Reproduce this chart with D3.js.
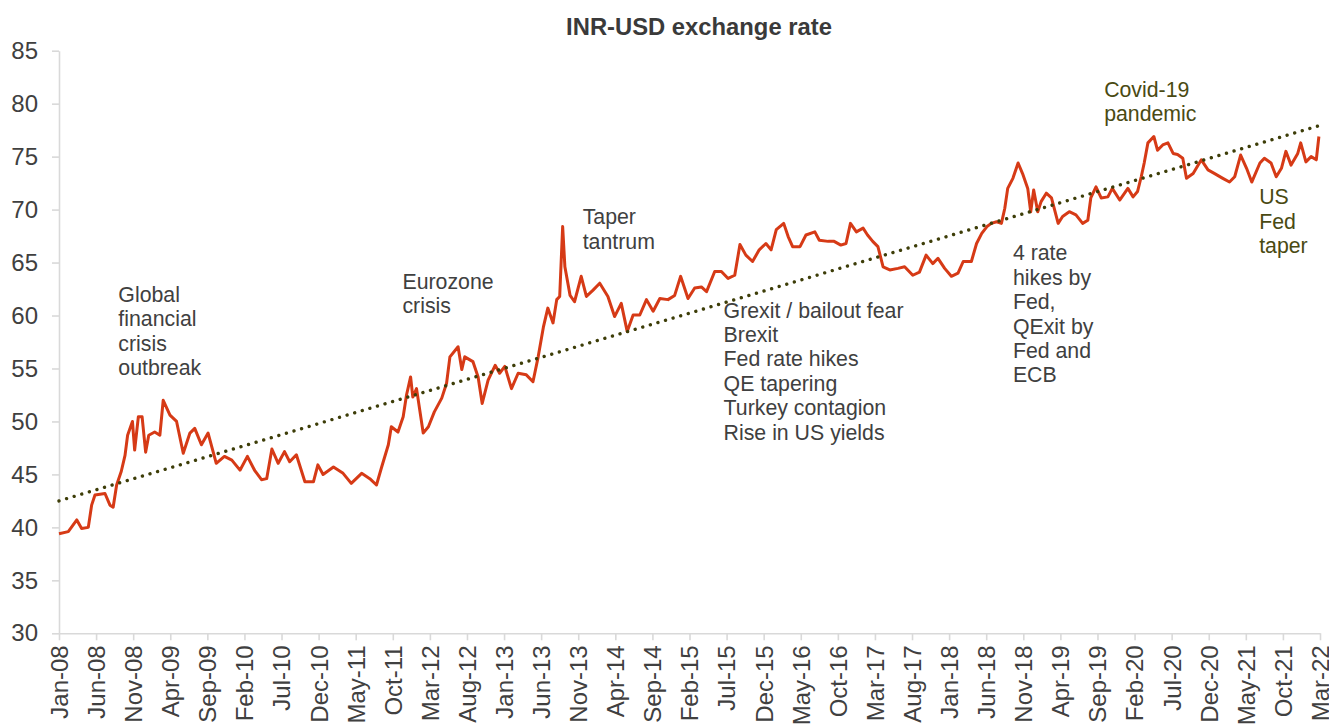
<!DOCTYPE html>
<html>
<head>
<meta charset="utf-8">
<script src="https://cdn.jsdelivr.net/npm/d3@7"></script>
<style>
  html, body { margin: 0; padding: 0; background: #fff; }
  svg { display: block; font-family: "Liberation Sans", Arial, sans-serif; }
</style>
</head>
<body>
<svg id="chart"></svg>
<script>
// months since Jan-08 (fractional)
const monthIdx = [
  0, 1.25, 2.4, 3.05, 3.95, 4.4, 4.85, 6.2, 6.87, 7.3, 7.77, 8.4, 8.9, 9.25, 9.9, 10.2, 10.7, 11.2, 11.68,
  12.1, 12.9, 13.6, 14.05, 14.96, 15.85, 16.75, 17.65, 18.3, 19.2, 20.1, 21.2, 22.3, 23.3, 24.4, 25.4, 26.4,
  27.3, 28.0, 28.7, 29.55, 30.4, 31.1, 32.0, 33.15, 34.3, 34.9, 35.6, 37.0, 38.3, 39.4, 40.8, 41.9, 42.8,
  43.5, 44.4, 44.8, 45.7, 46.4, 46.85, 47.4, 47.7, 48.2, 49.1, 49.8, 50.6, 51.6, 52.25, 52.7, 53.8, 54.3,
  54.7, 55.8, 56.5, 57.05, 57.85, 58.8, 59.4, 60.1, 61.0, 61.9, 63.0, 63.9, 64.6, 65.3, 65.9, 66.6, 67.1,
  67.5, 67.9, 68.2, 68.9, 69.5, 70.4, 71.1, 72.0, 72.9, 74.0, 74.9, 75.8, 76.6, 77.4, 78.3, 79.2, 80.1,
  81.0, 82.1, 83.0, 83.8, 84.8, 85.7, 86.6, 87.3, 88.4, 89.3, 90.2, 91.1, 91.8, 92.6, 93.5, 94.4, 95.3,
  96.0, 96.7, 97.7, 98.3, 98.9, 99.9, 100.7, 101.9, 102.5, 103.7, 104.5, 105.4, 106.1, 106.7, 107.5, 108.4,
  109.0, 109.7, 110.4, 111.1, 112.0, 113.1, 114.0, 115.1, 116.0, 116.9, 117.8, 118.5, 119.4, 120.3, 121.2,
  121.9, 123.0, 123.7, 124.4, 125.1, 125.7, 126.4, 127.05, 127.5, 127.9, 128.6, 129.3, 129.9, 130.6, 131.0,
  131.4, 131.95, 132.4, 133.1, 133.8, 134.7, 135.3, 136.2, 137.1, 138.0, 138.7, 139.1, 139.8, 140.5, 141.4,
  142.0, 143.0, 144.1, 144.8, 145.4, 145.9, 146.3, 146.8, 147.6, 148.1, 148.8, 149.5, 150.2, 150.8, 151.5,
  152.0, 152.9, 154.0, 154.9, 155.8, 156.9, 157.8, 158.5, 159.3, 160.1, 160.8, 161.9, 162.5, 163.4, 164.1,
  164.8, 165.4, 166.1, 167.0, 167.4, 168.1, 168.8, 169.5, 169.85
];
const inrPerUsd = [
  39.4, 39.6, 40.7, 39.9, 40.0, 42.1, 43.05, 43.2, 42.1, 41.9, 44.0, 45.3, 46.8, 48.7, 50.0, 47.3, 50.45, 50.45, 47.1,
  48.7, 49.0, 48.7, 52.0, 50.6, 50.0, 47.0, 48.9, 49.35, 47.8, 48.9, 46.05, 46.7, 46.35, 45.4, 46.7, 45.35,
  44.5, 44.6, 47.4, 46.05, 47.15, 46.2, 46.85, 44.3, 44.3, 45.9, 45.0, 45.7, 45.1, 44.15, 45.1, 44.6, 44.0,
  45.7, 47.8, 49.5, 49.0, 50.45, 52.5, 54.2, 52.3, 53.1, 48.9, 49.5, 50.9, 52.2, 53.6, 56.1, 57.05, 54.9,
  56.1, 55.65, 54.2, 51.7, 53.9, 55.3, 54.55, 55.2, 53.1, 54.55, 54.4, 53.75, 56.1, 58.9, 60.7, 59.3, 61.5,
  61.8, 68.4, 64.6, 61.9, 61.3, 63.7, 61.8, 62.4, 63.05, 61.8, 59.9, 61.15, 58.5, 60.05, 60.05, 61.5, 60.4,
  61.6, 61.5, 61.9, 63.7, 61.6, 62.6, 62.7, 62.25, 64.15, 64.15, 63.5, 63.8, 66.7, 65.7, 65.1, 66.2, 66.8,
  66.2, 68.1, 68.7, 67.45, 66.5, 66.5, 67.6, 67.9, 67.1, 67.0, 67.0, 66.65, 66.8, 68.7, 67.9, 68.25,
  67.6, 67.0, 66.5, 64.6, 64.3, 64.45, 64.6, 63.8, 64.1, 65.7, 64.9, 65.4, 64.45, 63.7, 64.0,
  65.1, 65.1, 66.8, 67.75, 68.4, 68.7, 68.85, 68.7, 70.1, 72.0, 72.95, 74.4, 73.4, 72.0, 69.8,
  71.85, 69.8, 70.75, 71.55, 71.1, 68.7, 69.35, 69.8, 69.5, 68.7, 69.0, 71.1, 72.15, 71.1, 71.2,
  72.0, 70.9, 72.0, 71.2, 71.7, 73.1, 74.4, 76.3, 76.9, 75.6, 76.1, 76.3, 75.3, 75.2, 74.85,
  72.95, 73.4, 74.7, 73.75, 73.4, 72.95, 72.6, 73.1, 75.15, 73.9, 72.6, 74.4, 74.85, 74.4, 73.1,
  73.9, 75.5, 74.2, 75.3, 76.3, 74.5, 75.0, 74.7, 76.9
];

// linear trend (start / end of the dotted line)
const trendMonths = [0, 170];
const trendValues = [42.5, 77.95];

const tickMonths = d3.range(0, 171, 5);
const tickLabels = [
  "Jan-08", "Jun-08", "Nov-08", "Apr-09", "Sep-09", "Feb-10", "Jul-10", "Dec-10", "May-11", "Oct-11",
  "Mar-12", "Aug-12", "Jan-13", "Jun-13", "Nov-13", "Apr-14", "Sep-14", "Feb-15", "Jul-15", "Dec-15",
  "May-16", "Oct-16", "Mar-17", "Aug-17", "Jan-18", "Jun-18", "Nov-18", "Apr-19", "Sep-19", "Feb-20",
  "Jul-20", "Dec-20", "May-21", "Oct-21", "Mar-22"
];
const yTicks = d3.range(30, 86, 5);

// event notes: [month, value at first line, lines, colour]
const notes = [
  [8.0, 61.3, ["Global", "financial", "crisis", "outbreak"], "#404040"],
  [46.3, 62.5, ["Eurozone", "crisis"], "#404040"],
  [70.6, 68.6, ["Taper", "tantrum"], "#404040"],
  [89.6, 59.8, ["Grexit / bailout fear", "Brexit", "Fed rate hikes", "QE tapering", "Turkey contagion", "Rise in US yields"], "#404040"],
  [128.6, 65.2, ["4 rate", "hikes by", "Fed,", "QExit by", "Fed and", "ECB"], "#404040"],
  [140.9, 80.65, ["Covid-19", "pandemic"], "#4a4a12"],
  [161.8, 70.5, ["US", "Fed", "taper"], "#4a4a12"]
];

const width = 1329;
const height = 724;
const margin = { top: 50.7, right: 9, bottom: 90.7, left: 59 };

const svg = d3.select("#chart").attr("width", width).attr("height", height);

const x = d3.scaleLinear()
  .domain([0, 170])
  .range([margin.left, width - margin.right]);

const y = d3.scaleLinear()
  .domain([30, 85])
  .range([height - margin.bottom, margin.top]);

// Title
svg.append("text")
  .attr("x", 699)
  .attr("y", 35)
  .attr("text-anchor", "middle")
  .style("font-weight", "bold")
  .style("font-size", "23.8px")
  .style("fill", "#3a3a3a")
  .text("INR-USD exchange rate");

// Y Axis
const yAxis = svg.append("g")
  .attr("transform", `translate(${margin.left},0)`)
  .call(d3.axisLeft(y).tickValues(yTicks).tickSize(7).tickSizeOuter(0).tickPadding(14));
yAxis.select(".domain").attr("stroke", "#d9d9d9").attr("stroke-width", 1.6);
yAxis.selectAll(".tick line").attr("stroke", "#d9d9d9").attr("stroke-width", 1.6);
yAxis.selectAll("text")
  .style("font-size", "24px")
  .style("fill", "#404040")
  .attr("font-family", null);

// X Axis
const xAxis = svg.append("g")
  .attr("transform", `translate(0,${y(30)})`)
  .call(d3.axisBottom(x).tickValues(tickMonths).tickFormat((d, i) => tickLabels[i]).tickSize(7).tickSizeOuter(0));
xAxis.select(".domain").attr("stroke", "#d9d9d9").attr("stroke-width", 1.6);
xAxis.selectAll(".tick line").attr("stroke", "#d9d9d9").attr("stroke-width", 1.6);
xAxis.selectAll("text")
  .attr("transform", "rotate(-90)")
  .attr("x", -12)
  .attr("y", 0)
  .attr("dy", "0.35em")
  .style("text-anchor", "end")
  .style("font-size", "24px")
  .style("fill", "#404040")
  .attr("font-family", null);

// Exchange rate line
const line = d3.line()
  .x((d, i) => x(monthIdx[i]))
  .y(d => y(d));

svg.append("path")
  .datum(inrPerUsd)
  .attr("fill", "none")
  .attr("stroke", "#d63a16")
  .attr("stroke-width", 3)
  .attr("stroke-linejoin", "round")
  .attr("d", line);

// Trend line (dotted)
svg.append("path")
  .datum(trendValues)
  .attr("fill", "none")
  .attr("stroke", "#3d3d08")
  .attr("stroke-width", 3.4)
  .attr("stroke-linecap", "round")
  .attr("stroke-dasharray", "0.01 7.9")
  .attr("d", d3.line().x((d, i) => x(trendMonths[i])).y(d => y(d)));

// Notes
notes.forEach(([m, v, lines, colour]) => {
  const t = svg.append("text")
    .attr("x", x(m))
    .attr("y", y(v))
    .style("font-size", "21.3px")
    .style("fill", colour);
  lines.forEach((s, i) => {
    t.append("tspan")
      .attr("x", x(m))
      .attr("dy", i === 0 ? 0 : 24.4)
      .text(s);
  });
});
</script>
</body>
</html>
